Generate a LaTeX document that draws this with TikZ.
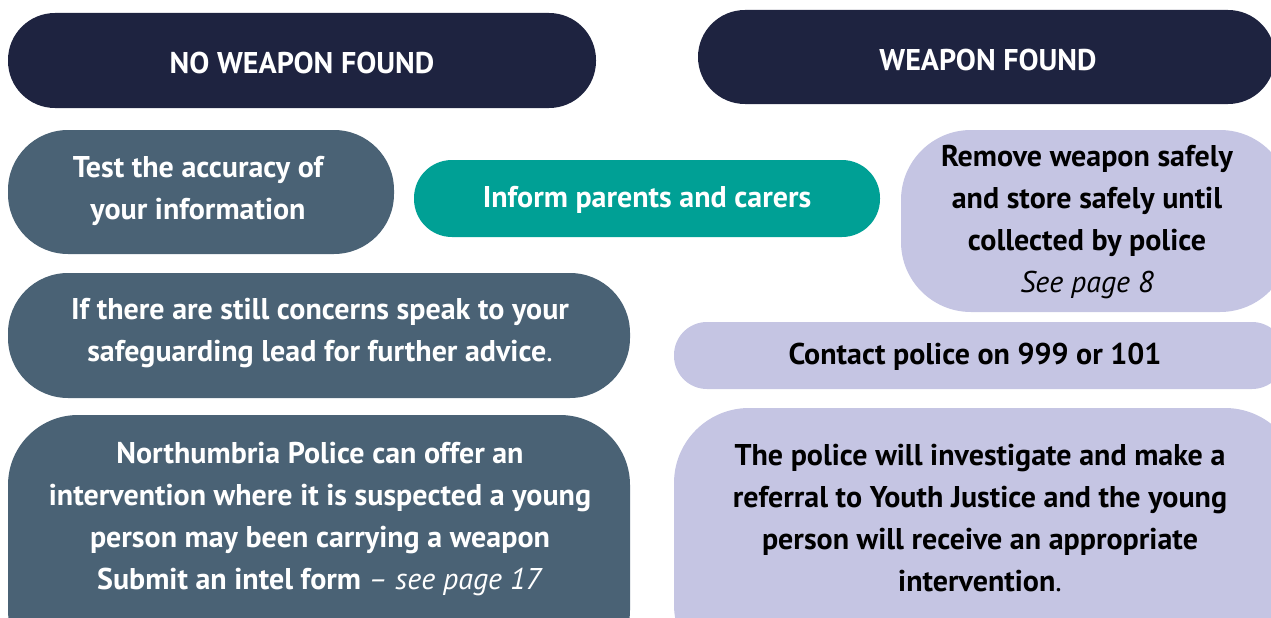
\documentclass[tikz,border=0pt]{standalone}
\usepackage{fontspec}
\setmainfont{PT Sans}
\usepackage{tikz}
\definecolor{navy}{HTML}{1E2340}
\definecolor{slate}{HTML}{4A6275}
\definecolor{tealbox}{HTML}{00A095}
\definecolor{lavender}{HTML}{C5C5E3}
\tikzset{
  x=1pt, y=-1pt,
  pill/.style={rounded corners=#1},
}
\tikzstyle{every node}=[font=\bfseries\fontsize{30}{42}\selectfont, align=center]
\tikzstyle{light}=[text=white]
\tikzstyle{dark}=[text=black]

\begin{document}
\begin{tikzpicture}
    \useasboundingbox (0,0) rectangle (1271,618);
    \clip (0,0) rectangle (1271,618);
    \fill[navy,pill=47] (8,13) rectangle (596,108);
    \fill[navy,pill=47] (698,10) rectangle (1275,104);
    \fill[slate,pill=60] (8,130) rectangle (394,254);
    \fill[tealbox,pill=38] (414,160) rectangle (880,237);
    \fill[lavender,pill=70] (901,130) rectangle (1290,312);
    \fill[slate,pill=60] (8,273) rectangle (630,398);
    \fill[lavender,pill=33] (674,322) rectangle (1285,389);
    \fill[slate,pill=70] (8,415) rectangle (630,680);
    \fill[lavender,pill=75] (674,408) rectangle (1300,680);
    \node[light] (nofound) at (302,63) {NO WEAPON FOUND};
    \node[light] (found) at (988,60) {WEAPON FOUND};
    \node[light] (test) at (198,191) {Test the accuracy of\\your information};
    \node[light] (inform) at (647,200) {Inform parents and carers};
    \node[dark] (remove) at (1087,222) {Remove weapon safely\\and store safely until\\collected by police\\\mdseries\itshape See page 8};
    \node[light] (concern) at (320,333) {If there are still concerns speak to your\\safeguarding lead for further advice\textmd{.}};
    \node[dark] (contact) at (975,357) {Contact police on 999 or 101};
    \node[light] (intel) at (320,519) {Northumbria Police can offer an\\intervention where it is suspected a young\\person may been carrying a weapon\\Submit an intel form \textmd{\itshape -- see page 17}};
    \node[dark] (invest) at (980,518) {The police will investigate and make a\\referral to Youth Justice and the young\\person will receive an appropriate\\intervention\textmd{.}};
\end{tikzpicture}
\end{document}
